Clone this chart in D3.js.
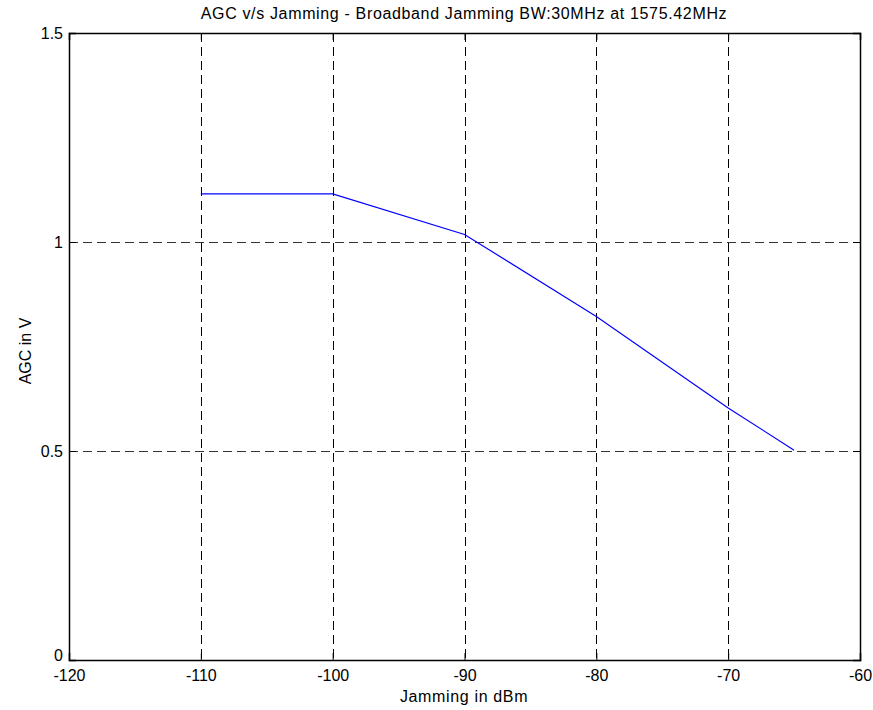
<!DOCTYPE html>
<html><head><meta charset="utf-8">
<script src="https://cdn.jsdelivr.net/npm/d3@7"></script>
<style>body{margin:0;background:#fff}svg text{font-family:"Liberation Sans",Arial,sans-serif;font-size:16px;fill:#000}</style>
</head><body><svg id="c" width="873" height="710"></svg>
<script>
const jamming = [-110, -100, -90, -80, -70, -65];
const agc = [1.115, 1.115, 1.018, 0.822, 0.603, 0.502];
const xTicks = [-120, -110, -100, -90, -80, -70, -60];
const yTicks = [0, 0.5, 1, 1.5];
const title = "AGC v/s Jamming - Broadband Jamming BW:30MHz at 1575.42MHz";
const xLabel = "Jamming in dBm";
const yLabel = "AGC in V";

const svg = d3.select("#c");
const L = 69, R = 860, T = 33, B = 660;
const x = d3.scaleLinear().domain([-120, -60]).range([L, R]);
const y = d3.scaleLinear().domain([0, 1.5]).range([B, T]);
const FS = "16px";

// grid
const g = svg.append("g");
g.selectAll(".vg").data(xTicks.slice(1, -1)).enter().append("line")
  .attr("x1", d => Math.round(x(d)) + 0.5).attr("x2", d => Math.round(x(d)) + 0.5)
  .attr("y1", T).attr("y2", B).attr("stroke", "#000").attr("stroke-dasharray", "9,5");
g.selectAll(".hg").data(yTicks.slice(1, -1)).enter().append("line")
  .attr("y1", d => Math.round(y(d)) + 0.5).attr("y2", d => Math.round(y(d)) + 0.5)
  .attr("x1", L).attr("x2", R).attr("stroke", "#333").attr("stroke-dasharray", "9,5");

// line
svg.append("path").datum(jamming.map((d, i) => [d, agc[i]]))
  .attr("fill", "none").attr("stroke", "#0000ff").attr("stroke-width", 1.2)
  .attr("d", d3.line().x(d => x(d[0])).y(d => y(d[1])));

// axes
svg.append("g").attr("transform", `translate(0,${B})`)
  .call(d3.axisBottom(x).tickValues(xTicks).tickSize(-7).tickPadding(10).tickFormat(d => String(d)));
svg.append("g").attr("transform", `translate(0,${T})`)
  .call(d3.axisTop(x).tickValues(xTicks).tickSize(-7).tickFormat(""));
const ay = svg.append("g").attr("transform", `translate(${L},0)`)
  .call(d3.axisLeft(y).tickValues(yTicks).tickSize(-7).tickPadding(6).tickFormat(d => String(d)));
ay.selectAll(".tick text").filter(d => d === 0).attr("dy", "0.05em");
svg.append("g").attr("transform", `translate(${R},0)`)
  .call(d3.axisRight(y).tickValues(yTicks).tickSize(-7).tickFormat(""));
svg.selectAll(".domain").attr("stroke", "#000").attr("stroke-width", 1.5);
svg.selectAll(".tick line").attr("stroke", "#000");
svg.selectAll(".tick text").style("font-size", FS).style("font-family", '"Liberation Sans",Arial,sans-serif');

svg.append("text").attr("x", 464).attr("y", 19).attr("text-anchor", "middle")
  .style("letter-spacing", "0.65px").text(title);
svg.append("text").attr("x", 464).attr("y", 702).attr("text-anchor", "middle")
  .style("letter-spacing", "0.65px").text(xLabel);
svg.append("text").attr("transform", "translate(31,351) rotate(-90)").attr("text-anchor", "middle").text(yLabel);
</script></body></html>
